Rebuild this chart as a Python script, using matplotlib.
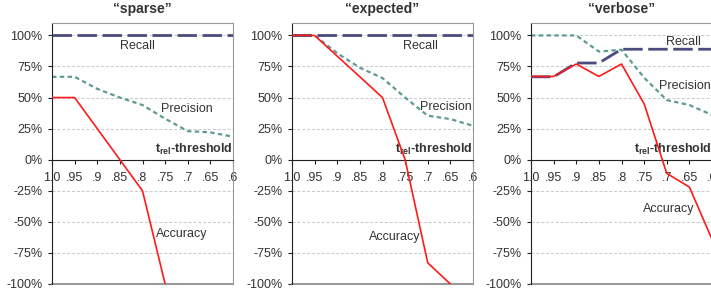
import numpy as np
import matplotlib.pyplot as plt

plt.rcParams['font.family'] = ['Liberation Sans', 'DejaVu Sans']
plt.rcParams['mathtext.fontset'] = 'custom'
plt.rcParams['mathtext.rm'] = 'Liberation Sans'
plt.rcParams['mathtext.bf'] = 'Liberation Sans:bold'

# Dane
progi = [1.0, 0.95, 0.9, 0.85, 0.8, 0.75, 0.7, 0.65, 0.6]
etykiety_x = ['1.0', '.95', '.9', '.85', '.8', '.75', '.7', '.65', '.6']
tytuly = ['\u201csparse\u201d', '\u201cexpected\u201d', '\u201cverbose\u201d']

recall_sparse = [100, 100, 100, 100, 100, 100, 100, 100, 100]
precision_sparse = [66.7, 66.7, 57, 50, 44, 33, 23, 22, 18.5]
accuracy_sparse = [50, 50, 25, 0, -25, -100, np.nan, np.nan, np.nan]

recall_expected = [100, 100, 100, 100, 100, 100, 100, 100, 100]
precision_expected = [100, 100, 85.7, 74, 65.7, 50, 35.4, 32.7, 27.3]
accuracy_expected = [100, 100, 83.3, 66.7, 50, 0, -83, -100, np.nan]

recall_verbose = [66.7, 66.7, 77.8, 77.8, 88.9, 88.9, 88.9, 88.9, 88.9]
precision_verbose = [100, 100, 100, 87, 88.5, 66, 48, 44, 36]
accuracy_verbose = [67, 67, 77, 67, 77, 45, -11, -22, -64]

# Pozycje podpisów (x, y) w danych
podpisy = [
    {'Recall': (0.812, 91.6), 'Precision': (0.702, 40.7), 'Accuracy': (0.713, -60)},
    {'Recall': (0.717, 91.6), 'Precision': (0.661, 42.4), 'Accuracy': (0.774, -62.5)},
    {'Recall': (0.664, 95), 'Precision': (0.660, 59.7), 'Accuracy': (0.695, -39.4)},
]

serie = [
    (recall_sparse, precision_sparse, accuracy_sparse),
    (recall_expected, precision_expected, accuracy_expected),
    (recall_verbose, precision_verbose, accuracy_verbose),
]

fig = plt.figure(figsize=(7.11, 2.94), dpi=100)
lewe = [52 / 711, 292 / 711, 531 / 711]
szer = 181 / 711
dol = 1 - 284 / 294
wys = (284 - 23) / 294

kolor_txt = '#333333'

for i, (rec, prec, acc) in enumerate(serie):
    ax = fig.add_axes([lewe[i], dol, szer, wys])
    ax.set_xlim(1.0, 0.6)
    ax.set_ylim(-100, 110)

    # Siatka
    for yy in [-75, -50, -25, 25, 50, 75, 100]:
        ax.axhline(yy, color='#c8c8c8', lw=0.7, ls=(0, (3, 2)), zorder=0)

    ax.plot(progi, rec, color='#4b4b7d', lw=2.0, dashes=(7, 2), zorder=3)
    ax.plot(progi, prec, color='#5f9a94', lw=1.6, dashes=(2, 1.5), zorder=2)
    ax.plot(progi, acc, color='#ff1a1a', lw=1.2, zorder=4)

    # Osie
    ax.spines['bottom'].set_position(('data', 0))
    ax.spines['bottom'].set_color('#222222')
    ax.spines['left'].set_color('#222222')
    ax.spines['top'].set_color('#999999')
    ax.spines['right'].set_color('#999999')
    ax.axhline(-100, color='#999999', lw=1.5, clip_on=False)

    ax.set_xticks(progi)
    ax.set_xticklabels(etykiety_x)
    ax.set_yticks(np.arange(-100, 101, 25))
    ax.set_yticklabels([f'{v}%' for v in range(-100, 101, 25)])
    ax.tick_params(axis='x', direction='out', length=3, pad=6, labelsize=9,
                   colors='#222222', labelcolor=kolor_txt)
    ax.tick_params(axis='y', direction='out', length=3, pad=4, labelsize=9,
                   colors='#222222', labelcolor=kolor_txt)

    for nazwa, (px, py) in podpisy[i].items():
        ax.text(px, py, nazwa, fontsize=9, color=kolor_txt, ha='center', va='center')

    ax.text(0.6, 2, r'$\mathbf{t}_{\mathbf{rel}}$-threshold', fontsize=9,
            fontweight='bold', color=kolor_txt, ha='right', va='bottom')

    ax.set_title(tytuly[i], fontsize=10, fontweight='bold', color=kolor_txt, pad=7)

fig.savefig('out.png', dpi=100)
